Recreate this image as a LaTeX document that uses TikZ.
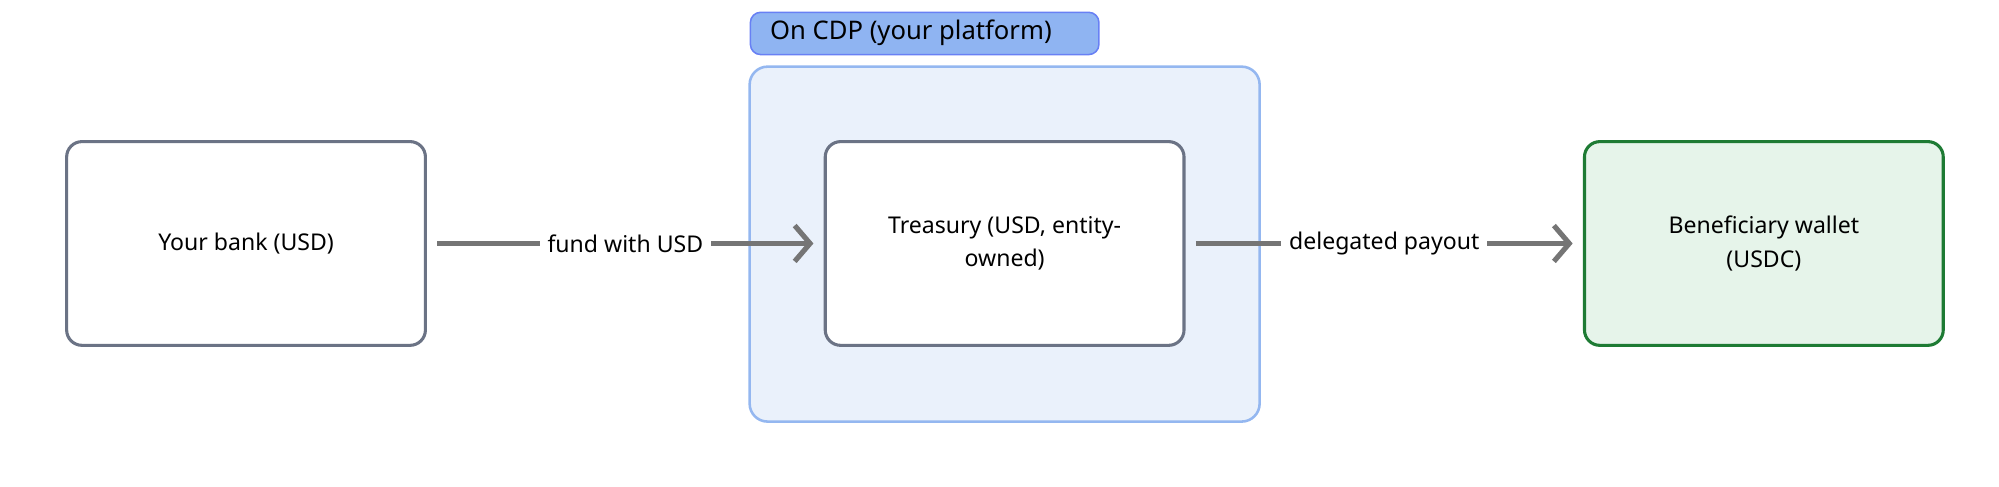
\documentclass[tikz,border=0pt]{standalone}
\usepackage{fontspec}
\setmainfont{Noto Sans}
\usetikzlibrary{positioning, arrows.meta}
\definecolor{boxline}{HTML}{6B7385}
\definecolor{flowgray}{HTML}{757575}
\definecolor{cdpfill}{HTML}{EAF1FB}
\definecolor{cdpline}{HTML}{94B7F0}
\definecolor{cdptag}{HTML}{8FB4F2}
\definecolor{walletfill}{HTML}{E6F4EA}
\definecolor{walletline}{HTML}{1E7B34}

\begin{document}
\begin{tikzpicture}[x=0.5pt, y=-0.5pt, font=\fontsize{9}{13}\selectfont,
  stage/.style = {draw=boxline, line width=1.2pt, rounded corners=6pt, fill=white,
                 minimum width=140pt, minimum height=79.5pt, align=center},
  flow/.style = {draw=flowgray, line width=2pt, -{Straight Barb[length=6pt, width=14pt, line width=2pt]}},
  flowlabel/.style = {fill=white, inner sep=3pt}]
\useasboundingbox (0,0) rectangle (1560,380);
% platform area
\draw[draw=cdpline, fill=cdpfill, line width=1pt, rounded corners=7pt] (585,52) rectangle (983,329);
\node[draw=cdpline!70!blue, fill=cdptag, line width=0.6pt, rounded corners=4pt, anchor=north west,
      minimum width=136pt, minimum height=16.5pt, inner sep=0pt] (cdp) at (585,9) {};
\node[anchor=west, font=\fontsize{10}{12}\selectfont] (cdptext) at (594,25.5) {On CDP (your platform)};
% boxes
\node[stage] (bank) at (192,190) {Your bank (USD)};
\node[stage] (treasury) at (784,190) {Treasury (USD, entity-\\owned)};
\node[stage, draw=walletline, fill=walletfill] (wallet) at (1376.5,190) {Beneficiary wallet\\(USDC)};
% flows
\draw[flow] ([xshift=4pt]bank.east) -- ([xshift=-4pt]treasury.west) node[flowlabel, midway] {fund with USD};
\draw[flow] ([xshift=4pt]treasury.east) -- ([xshift=-4pt]wallet.west) node[flowlabel, midway] {delegated payout};
\end{tikzpicture}
\end{document}
